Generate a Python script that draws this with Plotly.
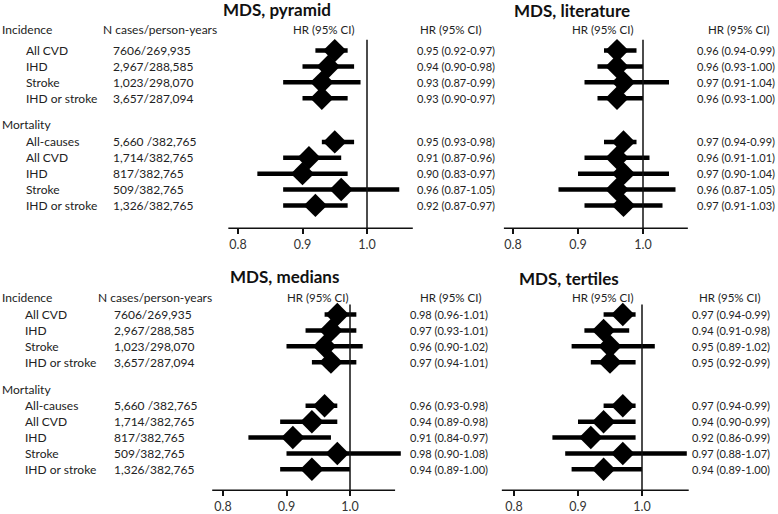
import plotly.graph_objects as go

W, H = 778, 514
FONT = "Lato"

# ---------------- data ----------------
incidence_labels = ["All CVD", "IHD", "Stroke", "IHD or stroke"]
mortality_labels = ["All-causes", "All CVD", "IHD", "Stroke", "IHD or stroke"]
incidence_cases = ["7606/269,935", "2,967/288,585", "1,023/298,070", "3,657/287,094"]
mortality_cases = ["5,660 /382,765", "1,714/382,765", "817/382,765", "509/382,765", "1,326/382,765"]

pyramid_hr = [0.95, 0.94, 0.93, 0.93, 0.95, 0.91, 0.90, 0.96, 0.92]
pyramid_lo = [0.92, 0.90, 0.87, 0.90, 0.93, 0.87, 0.83, 0.87, 0.87]
pyramid_hi = [0.97, 0.98, 0.99, 0.97, 0.98, 0.96, 0.97, 1.05, 0.97]

literature_hr = [0.96, 0.96, 0.97, 0.96, 0.97, 0.96, 0.97, 0.96, 0.97]
literature_lo = [0.94, 0.93, 0.91, 0.93, 0.94, 0.91, 0.90, 0.87, 0.91]
literature_hi = [0.99, 1.00, 1.04, 1.00, 0.99, 1.01, 1.04, 1.05, 1.03]

medians_hr = [0.98, 0.97, 0.96, 0.97, 0.96, 0.94, 0.91, 0.98, 0.94]
medians_lo = [0.96, 0.93, 0.90, 0.94, 0.93, 0.89, 0.84, 0.90, 0.89]
medians_hi = [1.01, 1.01, 1.02, 1.01, 0.98, 0.98, 0.97, 1.08, 1.00]

tertiles_hr = [0.97, 0.94, 0.95, 0.95, 0.97, 0.94, 0.92, 0.97, 0.94]
tertiles_lo = [0.94, 0.91, 0.89, 0.92, 0.94, 0.90, 0.86, 0.88, 0.89]
tertiles_hi = [0.99, 0.98, 1.02, 0.99, 0.99, 0.99, 0.99, 1.07, 1.00]

tick_vals = [0.8, 0.9, 1.0]
tick_text = ["0.8", "0.9", "1.0"]

# ---------------- layout constants ----------------
ROW_POS = [0, 1, 2, 3, 5.75, 6.75, 7.75, 8.75, 9.75]
ROW_PX = 16.0
XRANGE = [0.70, 1.12]
LABEL_SIZE = 12
VALUE_SIZE = 11
HEAD_SIZE = 11.5


def xp(px):
    return px / W


def yp(py):
    return 1 - py / H


fig = go.Figure()
annotations = []
shapes = []
layout_axes = {}


def txt(text, x, y, anchor="left", size=LABEL_SIZE, bold=False, yref="paper", color="#222"):
    annotations.append(dict(
        text=("<b>%s</b>" % text) if bold else text,
        x=x, y=y, xref="paper", yref=yref,
        xanchor=anchor, yanchor="middle", showarrow=False,
        font=dict(family=FONT, size=size, color=color),
    ))


def fmt(h, l, u):
    return "%.2f (%.2f-%.2f)" % (h, l, u)


def panel(idx, hr, lo, hi, x08, x10, row0, axis_y, top_y, vtop_y, span):
    xa = "xaxis" if idx == 1 else "xaxis%d" % idx
    ya = "yaxis" if idx == 1 else "yaxis%d" % idx
    xr = "x" if idx == 1 else "x%d" % idx
    yr = "y" if idx == 1 else "y%d" % idx
    scale = (x10 - x08) / 0.2
    left = x08 - (0.8 - XRANGE[0]) * scale
    right = x10 + (XRANGE[1] - 1.0) * scale
    ybot = (axis_y - row0) / ROW_PX
    ytop = (top_y - row0) / ROW_PX
    layout_axes[xa] = dict(domain=[xp(left), xp(right)], range=XRANGE, anchor=yr,
                           showgrid=False, zeroline=False, showline=False,
                           tickvals=tick_vals, ticktext=tick_text, ticks="outside",
                           ticklen=5, tickwidth=1.5, tickcolor="#111",
                           tickfont=dict(family=FONT, size=12.5, color="#333"))
    layout_axes[ya] = dict(domain=[yp(axis_y), yp(top_y)], range=[ybot, ytop], anchor=xr,
                           visible=False, showgrid=False, zeroline=False)
    # CI lines
    lx, ly = [], []
    for l, u, r in zip(lo, hi, ROW_POS):
        lx += [l, u, None]
        ly += [r, r, None]
    fig.add_trace(go.Scatter(x=lx, y=ly, mode="lines", xaxis=xr, yaxis=yr,
                             line=dict(color="black", width=4.5), showlegend=False,
                             hoverinfo="skip"))
    fig.add_trace(go.Scatter(x=hr, y=ROW_POS, mode="markers", xaxis=xr, yaxis=yr,
                             marker=dict(symbol="diamond", size=18, color="black",
                                         line=dict(width=0)),
                             showlegend=False))
    # axis line
    shapes.append(dict(type="line", xref=xr, yref=yr + " domain", x0=span[0], x1=span[1],
                       y0=0, y1=0, line=dict(color="#111", width=1.5)))
    # reference line at 1.0
    shapes.append(dict(type="line", xref=xr, yref=yr, x0=1.0, x1=1.0,
                       y0=(vtop_y - row0) / ROW_PX, y1=ybot, line=dict(color="#111", width=1.5)))
    return yr


def left_block(yr, hdr_y, mort_y, lab_x, ncase_hdr_x, ncase_x):
    txt("Incidence", 0.0, yp(hdr_y))
    txt("N cases/person-years", xp(ncase_hdr_x), yp(hdr_y))
    txt("Mortality", 0.0, yp(mort_y))
    labels = incidence_labels + mortality_labels
    cases = incidence_cases + mortality_cases
    for lab, c, r in zip(labels, cases, ROW_POS):
        txt(lab, xp(lab_x), r, yref=yr)
        txt(c, xp(ncase_x), r, yref=yr)


def value_col(yr, hr, lo, hi, x):
    for h, l, u, r in zip(hr, lo, hi, ROW_POS):
        txt(fmt(h, l, u), xp(x), r, yref=yr, size=VALUE_SIZE)


# ---- top-left: pyramid ----
y1 = panel(1, pyramid_hr, pyramid_lo, pyramid_hi, 238, 367, 51, 230, 20, 40, [0.785, 1.071])
txt("MDS, pyramid", xp(277), yp(10), anchor="center", size=17, bold=True, color="#111")
left_block(y1, 30, 125, 24, 101, 111)
txt("HR (95% CI)", xp(323), yp(30), anchor="center", size=HEAD_SIZE)
txt("HR (95% CI)", xp(450), yp(30), anchor="center", size=HEAD_SIZE)
value_col(y1, pyramid_hr, pyramid_lo, pyramid_hi, 415)

# ---- top-right: literature ----
y2 = panel(2, literature_hr, literature_lo, literature_hi, 513, 643, 51, 230, 20, 40, [0.786, 1.069])
txt("MDS, literature", xp(572), yp(11), anchor="center", size=17, bold=True, color="#111")
txt("HR (95% CI)", xp(602), yp(30), anchor="center", size=HEAD_SIZE)
txt("HR (95% CI)", xp(738), yp(30), anchor="center", size=HEAD_SIZE)
value_col(y2, literature_hr, literature_lo, literature_hi, 695)

# ---- bottom-left: medians ----
y3 = panel(3, medians_hr, medians_lo, medians_hi, 223, 350, 317, 494, 285, 307, [0.783, 1.071])
txt("MDS, medians", xp(284), yp(279), anchor="center", size=17, bold=True, color="#111")
left_block(y3, 300, 393, 23, 96, 112)
txt("HR (95% CI)", xp(317), yp(300), anchor="center", size=HEAD_SIZE)
txt("HR (95% CI)", xp(450), yp(300), anchor="center", size=HEAD_SIZE)
value_col(y3, medians_hr, medians_lo, medians_hi, 408)

# ---- bottom-right: tertiles ----
y4 = panel(4, tertiles_hr, tertiles_lo, tertiles_hi, 514, 642, 317, 494, 285, 307, [0.781, 1.073])
txt("MDS, tertiles", xp(569), yp(281), anchor="center", size=17, bold=True, color="#111")
txt("HR (95% CI)", xp(602), yp(300), anchor="center", size=HEAD_SIZE)
txt("HR (95% CI)", xp(729), yp(300), anchor="center", size=HEAD_SIZE)
value_col(y4, tertiles_hr, tertiles_lo, tertiles_hi, 690)

fig.update_layout(
    width=W, height=H,
    margin=dict(l=0, r=0, t=0, b=0),
    paper_bgcolor="white", plot_bgcolor="rgba(0,0,0,0)",
    showlegend=False,
    annotations=annotations, shapes=shapes,
    font=dict(family=FONT),
    **layout_axes,
)

fig.write_html("out.html", config={"displayModeBar": False},
               post_script="document.body.style.margin='0px';document.body.style.overflow='hidden';")
